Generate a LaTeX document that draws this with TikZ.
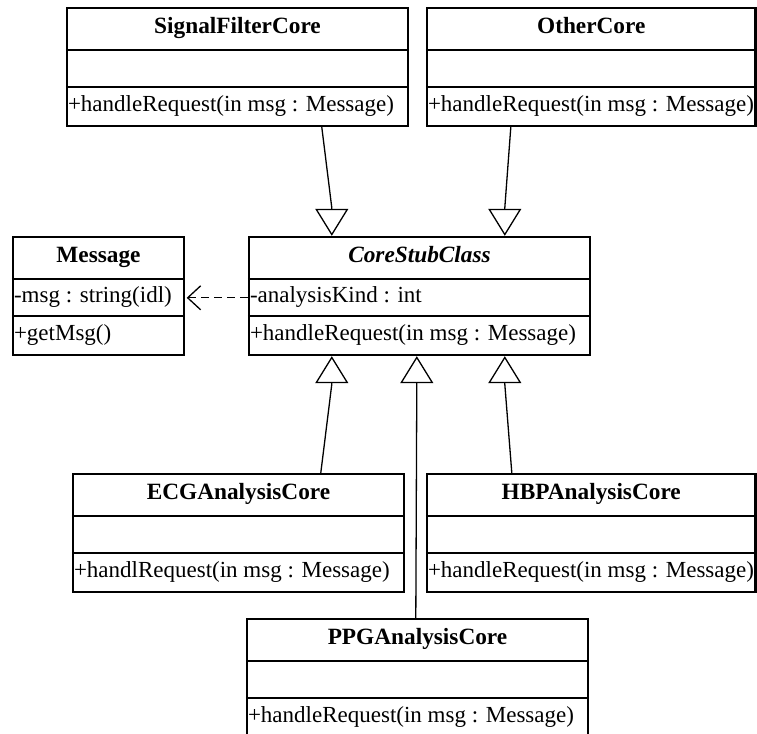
\documentclass[tikz,border=0pt]{standalone}
\usepackage{fontspec}
\setmainfont{Liberation Serif}
\usetikzlibrary{arrows.meta,calc,fit}
\tikzset{
  boxline/.style={line width=2.4pt},
  divline/.style={line width=2pt},
  txt/.style={inner sep=0pt, text height=16pt, text depth=5pt, font=\fontsize{23}{28}\selectfont},
  gen/.style={line width=1.3pt, -{Triangle[open,length=27pt,width=33pt]}},
  dep/.style={line width=1.3pt, dash pattern=on 8pt off 5pt, -{Straight Barb[length=13pt,width=24pt]}},
}
\newcommand{\umlclass}[7]{%
  \node[fit={({#2},{#4}) ({#3},{#4+118})}, inner sep=0pt, draw, boxline] (#1) {};
  \draw[divline] ($(#1.north west)+(0,43)$) -- ($(#1.north east)+(0,43)$);
  \draw[divline] ($(#1.north west)+(0,80)$) -- ($(#1.north east)+(0,80)$);
  \node[txt, font=\fontsize{23.3}{28}\selectfont\bfseries] (#1-n) at ($(#1.north)+(0,21.5)$) {#5};
  \node[txt, anchor=west] (#1-a) at ($(#1.north west)+(2,61.5)$) {#6};
  \node[txt, anchor=west] (#1-m) at ($(#1.north west)+(2,99.5)$) {#7};
}
\begin{document}
\begin{tikzpicture}[x=1pt,y=-1pt]
\useasboundingbox (0,0) rectangle (757,733);
\clip (0,0) rectangle (757,733);
\umlclass{SF}{67}{408}{8}{SignalFilterCore}{}{+handleRequest(in msg : Message)}
\umlclass{OC}{427}{755.5}{8}{OtherCore}{}{+handleRequest(in msg : Message)}
\umlclass{MSG}{13}{184}{237}{Message}{-msg : string(idl)}{+getMsg()}
\umlclass{CSC}{249}{590}{237}{\itshape CoreStubClass}{-analysisKind : int}{+handleRequest(in msg : Message)}
\umlclass{ECG}{73}{404}{474}{ECGAnalysisCore}{}{+handlRequest(in msg : Message)}
\umlclass{HBP}{427}{755.5}{474}{HBPAnalysisCore}{}{+handleRequest(in msg : Message)}
\umlclass{PPG}{247}{588}{619}{PPGAnalysisCore}{}{+handleRequest(in msg : Message)}
% generalizations
\draw[gen] ($(SF.south west)+(256,0)$) -- ($(CSC.north west)+(84,-28)$) -- ($(CSC.north west)+(84,0)$);
\draw[gen] ($(OC.south west)+(85,0)$) -- ($(CSC.north west)+(257,-28)$) -- ($(CSC.north west)+(257,0)$);
\draw[gen] ($(ECG.north west)+(249,0)$) -- ($(CSC.south west)+(84,28)$) -- ($(CSC.south west)+(84,0)$);
\draw[gen] ($(PPG.north west)+(170,0)$) -- ($(CSC.south west)+(169,28)$) -- ($(CSC.south west)+(169,0)$);
\draw[gen] ($(HBP.north west)+(86,0)$) -- ($(CSC.south west)+(257,28)$) -- ($(CSC.south west)+(257,0)$);
% dependency
\draw[dep] ($(CSC.north west)+(0,62)$) -- ($(MSG.north east)+(1.5,62)$);
\end{tikzpicture}
\end{document}
